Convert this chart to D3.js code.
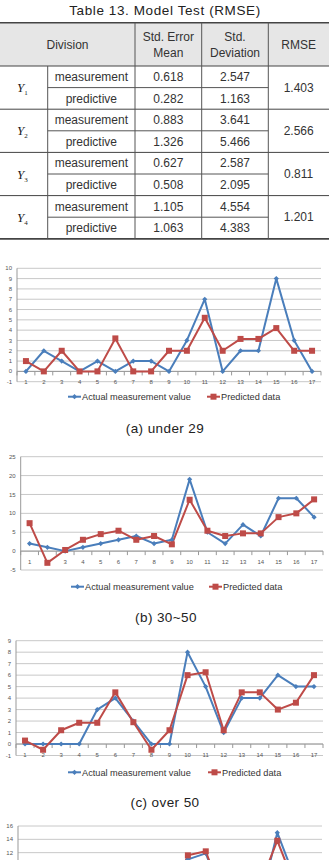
<!DOCTYPE html>
<html><head><meta charset="utf-8">
<script src="https://cdn.jsdelivr.net/npm/d3@7"></script>
<style>html,body{margin:0;padding:0;background:#fff;overflow:hidden}</style>
</head><body><svg id="c" width="329" height="860"></svg>
<script>
// ---------- DATA ----------
const tableTitle = "Table 13. Model Test (RMSE)";
const tableHeaders = ["Division", "Std. Error|Mean", "Std.|Deviation", "RMSE"];
const tableGroups = ["1", "2", "3", "4"];
const tableKinds = ["measurement", "predictive"];
const stdErrorMean = [["0.618", "0.282"], ["0.883", "1.326"], ["0.627", "0.508"], ["1.105", "1.063"]];
const stdDeviation = [["2.547", "1.163"], ["3.641", "5.466"], ["2.587", "2.095"], ["4.554", "4.383"]];
const rmseValues = ["1.403", "2.566", "0.811", "1.201"];

const categories = ["1","2","3","4","5","6","7","8","9","10","11","12","13","14","15","16","17"];
const seriesNames = ["Actual measurement value", "Predicted data"];

const under29Actual    = [0, 2, 1, 0, 1, 0, 1, 1, 0, 3, 7, 0, 2, 2, 9, 3, 0];
const under29Predicted = [1, 0, 2, 0, 0, 3.2, 0, 0, 2, 2, 5.2, 2, 3.15, 3.15, 4.2, 2, 2];
const under29Ticks = [-1, 0, 1, 2, 3, 4, 5, 6, 7, 8, 9, 10];

const mid30to50Actual    = [2, 1, 0, 1, 2, 3, 4, 2, 3, 19, 5, 2, 7, 4, 14, 14, 9];
const mid30to50Predicted = [7.4, -3.1, 0.3, 3, 4.5, 5.4, 3, 4, 1.8, 13.6, 5.4, 4, 4.7, 4.7, 9, 10, 13.7];
const mid30to50Ticks = [-5, 0, 5, 10, 15, 20, 25];

const over50Actual    = [0, 0, 0, 0, 3, 4, 2, 0, 0, 8, 5, 1, 4, 4, 6, 5, 5];
const over50Predicted = [0.3, -0.5, 1.2, 1.85, 1.85, 4.5, 1.9, -0.5, 1.2, 6, 6.25, 1.2, 4.5, 4.5, 3, 3.6, 6];
const over50Ticks = [-1, 0, 1, 2, 3, 4, 5, 6, 7, 8, 9];

const fourthActual    = [3, 2, 4, 5, 3, 6, 5, 2, 4, 11, 11.9, 5, 6, 4, 15, 8, 7];
const fourthPredicted = [4, 3, 4, 5, 4, 6, 5, 3, 5, 11.6, 12.2, 5, 6, 7, 13.8, 7, 7];
const fourthTicks = [-2, 0, 2, 4, 6, 8, 10, 12, 14, 16];

const captions = ["(a) under 29", "(b) 30~50", "(c) over 50"];

// ---------- DRAW ----------
const W = 329, H = 860;
const svg = d3.select("#c");
const BLUE = "#4A7EBB", RED = "#BE4B48", GRID = "#c8c8c8", TXT = "#333";
const sans = "'Liberation Sans', Arial, sans-serif";

// Title
svg.append("text").attr("x", 165).attr("y", 15).attr("text-anchor", "middle")
  .attr("font-family", sans).attr("font-size", 13.5).attr("fill", "#222")
  .attr("letter-spacing", 0.6).text(tableTitle);

// Table
const colX = [0, 47.7, 135, 201.7, 268.3, 329];
const tTop = 22.7, hBot = 66, rowH = 21.6;
const tbl = svg.append("g");
tbl.append("rect").attr("x", 0).attr("y", tTop).attr("width", W).attr("height", hBot - tTop).attr("fill", "#e6e6e6");
const hCenters = [(colX[0] + colX[2]) / 2, (colX[2] + colX[3]) / 2, (colX[3] + colX[4]) / 2, (colX[4] + colX[5]) / 2];
tableHeaders.forEach((h, i) => {
  const lines = h.split("|");
  lines.forEach((ln, j) => {
    const cy = lines.length === 1 ? (tTop + hBot) / 2 : (j === 0 ? 37 : 52.5);
    tbl.append("text").attr("x", hCenters[i]).attr("y", cy).attr("dy", "0.35em")
      .attr("text-anchor", "middle").attr("font-family", sans).attr("font-size", 12)
      .attr("fill", TXT).text(ln);
  });
});
tableGroups.forEach((g, gi) => {
  const gTop = hBot + gi * 2 * rowH;
  const yl = tbl.append("text").attr("x", 17).attr("y", gTop + rowH).attr("dy", "0.35em")
    .attr("font-family", "'Liberation Serif', 'Times New Roman', serif").attr("font-style", "italic")
    .attr("font-size", 13).attr("fill", "#222");
  yl.append("tspan").text("Y");
  yl.append("tspan").attr("font-size", 7).attr("font-style", "normal").attr("dy", 3).text(g);
  tableKinds.forEach((k, ki) => {
    const cy = gTop + rowH * (ki + 0.5);
    tbl.append("text").attr("x", (colX[1] + colX[2]) / 2).attr("y", cy).attr("dy", "0.35em")
      .attr("text-anchor", "middle").attr("font-family", sans).attr("font-size", 12).attr("fill", TXT).text(k);
    tbl.append("text").attr("x", (colX[2] + colX[3]) / 2).attr("y", cy).attr("dy", "0.35em")
      .attr("text-anchor", "middle").attr("font-family", sans).attr("font-size", 12).attr("fill", TXT).text(stdErrorMean[gi][ki]);
    tbl.append("text").attr("x", (colX[3] + colX[4]) / 2).attr("y", cy).attr("dy", "0.35em")
      .attr("text-anchor", "middle").attr("font-family", sans).attr("font-size", 12).attr("fill", TXT).text(stdDeviation[gi][ki]);
  });
  tbl.append("text").attr("x", (colX[4] + colX[5]) / 2).attr("y", gTop + rowH).attr("dy", "0.35em")
    .attr("text-anchor", "middle").attr("font-family", sans).attr("font-size", 12).attr("fill", TXT).text(rmseValues[gi]);
  tbl.append("line").attr("x1", colX[1]).attr("x2", colX[4]).attr("y1", gTop + rowH).attr("y2", gTop + rowH)
    .attr("stroke", "#555").attr("stroke-width", 1);
  const gb = gTop + 2 * rowH;
  tbl.append("line").attr("x1", 0).attr("x2", W).attr("y1", gb).attr("y2", gb)
    .attr("stroke", "#444").attr("stroke-width", gi === tableGroups.length - 1 ? 1.8 : 1);
});
const tBot = hBot + tableGroups.length * 2 * rowH;
[tTop, hBot].forEach(y => tbl.append("line").attr("x1", 0).attr("x2", W).attr("y1", y).attr("y2", y)
  .attr("stroke", "#444").attr("stroke-width", y === tTop ? 1.5 : 1));
[colX[2], colX[3], colX[4]].forEach(x => tbl.append("line").attr("x1", x).attr("x2", x)
  .attr("y1", tTop).attr("y2", tBot).attr("stroke", "#555").attr("stroke-width", 1));
tbl.append("line").attr("x1", colX[1]).attr("x2", colX[1]).attr("y1", hBot).attr("y2", tBot)
  .attr("stroke", "#555").attr("stroke-width", 1);

// Charts
function diamond(s) { return `M0,${-s}L${s},0L0,${s}L${-s},0Z`; }

function drawChart(o) {
  const g = svg.append("g");
  const x = d3.scalePoint().domain(categories).range([o.left, o.right]).padding(0.5);
  const y = d3.scaleLinear().domain([o.ticks[0], o.ticks[o.ticks.length - 1]]).range([o.bottom, o.top]);
  const visible = py => py + 4 < H; // only texts that fall inside the page
  g.selectAll(".grid").data(o.ticks).enter().append("line")
    .attr("x1", o.left).attr("x2", o.right).attr("y1", d => y(d)).attr("y2", d => y(d))
    .attr("stroke", GRID).attr("stroke-width", 1);
  g.append("line").attr("x1", o.left).attr("x2", o.left).attr("y1", o.top).attr("y2", o.bottom)
    .attr("stroke", "#999").attr("stroke-width", 1);
  g.selectAll(".ytl").data(o.ticks.filter(d => visible(y(d)))).enter().append("text")
    .attr("x", o.left - 5).attr("y", d => y(d)).attr("dy", "0.35em").attr("text-anchor", "end")
    .attr("font-family", sans).attr("font-size", 6).attr("fill", "#555").text(d => d);
  const y0 = y(0);
  g.append("line").attr("x1", o.left).attr("x2", o.right).attr("y1", y0).attr("y2", y0)
    .attr("stroke", "#999").attr("stroke-width", 1);
  const band = x.step();
  g.selectAll(".xt").data(d3.range(categories.length + 1)).enter().append("line")
    .attr("x1", i => x(categories[0]) - band / 2 + i * band).attr("x2", i => x(categories[0]) - band / 2 + i * band)
    .attr("y1", y0).attr("y2", y0 + 4).attr("stroke", "#999");
  if (visible(y0 + 11)) {
    g.selectAll(".xtl").data(categories).enter().append("text")
      .attr("x", d => x(d)).attr("y", y0 + 11).attr("dy", "0.35em").attr("text-anchor", "middle")
      .attr("font-family", sans).attr("font-size", 6).attr("fill", "#555").text(d => d);
  }
  const line = d3.line().x((d, i) => x(categories[i])).y(d => y(d));
  g.append("path").datum(o.actual).attr("d", line).attr("fill", "none").attr("stroke", BLUE).attr("stroke-width", 2).attr("stroke-linejoin", "round");
  g.append("path").datum(o.predicted).attr("d", line).attr("fill", "none").attr("stroke", RED).attr("stroke-width", 2).attr("stroke-linejoin", "round");
  g.selectAll(".ma").data(o.actual).enter().append("path")
    .attr("transform", (d, i) => `translate(${x(categories[i])},${y(d)})`).attr("d", diamond(2.6)).attr("fill", BLUE);
  g.selectAll(".mp").data(o.predicted).enter().append("rect")
    .attr("x", (d, i) => x(categories[i]) - 3).attr("y", d => y(d) - 3).attr("width", 6).attr("height", 6).attr("fill", RED);
  if (o.legendY) {
    const ly = o.legendY;
    g.append("line").attr("x1", o.lb).attr("x2", o.lb + 13).attr("y1", ly).attr("y2", ly).attr("stroke", BLUE).attr("stroke-width", 2);
    g.append("path").attr("transform", `translate(${o.lb + 6.5},${ly})`).attr("d", diamond(2.6)).attr("fill", BLUE);
    g.append("text").attr("x", o.lb + 14).attr("y", ly).attr("dy", "0.35em").attr("font-family", sans)
      .attr("font-size", 9.2).attr("fill", TXT).text(seriesNames[0]);
    g.append("line").attr("x1", o.lr).attr("x2", o.lr + 13).attr("y1", ly).attr("y2", ly).attr("stroke", RED).attr("stroke-width", 2);
    g.append("rect").attr("x", o.lr + 3.5).attr("y", ly - 3).attr("width", 6).attr("height", 6).attr("fill", RED);
    g.append("text").attr("x", o.lr + 14).attr("y", ly).attr("dy", "0.35em").attr("font-family", sans)
      .attr("font-size", 9.2).attr("fill", TXT).text(seriesNames[1]);
  }
  if (o.caption) {
    svg.append("text").attr("x", o.capX).attr("y", o.capY).attr("dy", "0.35em").attr("text-anchor", "middle")
      .attr("font-family", sans).attr("font-size", 13.5).attr("fill", "#222").attr("letter-spacing", 0.4)
      .text(o.caption);
  }
}

drawChart({ left: 17, right: 321, top: 268.3, bottom: 381.7, ticks: under29Ticks,
  actual: under29Actual, predicted: under29Predicted, legendY: 396.7, lb: 68, lr: 207,
  caption: captions[0], capX: 165, capY: 428 });
drawChart({ left: 20.7, right: 323, top: 456.7, bottom: 570, ticks: mid30to50Ticks,
  actual: mid30to50Actual, predicted: mid30to50Predicted, legendY: 586.7, lb: 71, lr: 209,
  caption: captions[1], capX: 166, capY: 617 });
drawChart({ left: 16, right: 323, top: 640.7, bottom: 755.5, ticks: over50Ticks,
  actual: over50Actual, predicted: over50Predicted, legendY: 772.3, lb: 68, lr: 208,
  caption: captions[2], capX: 165, capY: 802 });
drawChart({ left: 18, right: 322, top: 826, bottom: 946, ticks: fourthTicks,
  actual: fourthActual, predicted: fourthPredicted });
</script></body></html>
